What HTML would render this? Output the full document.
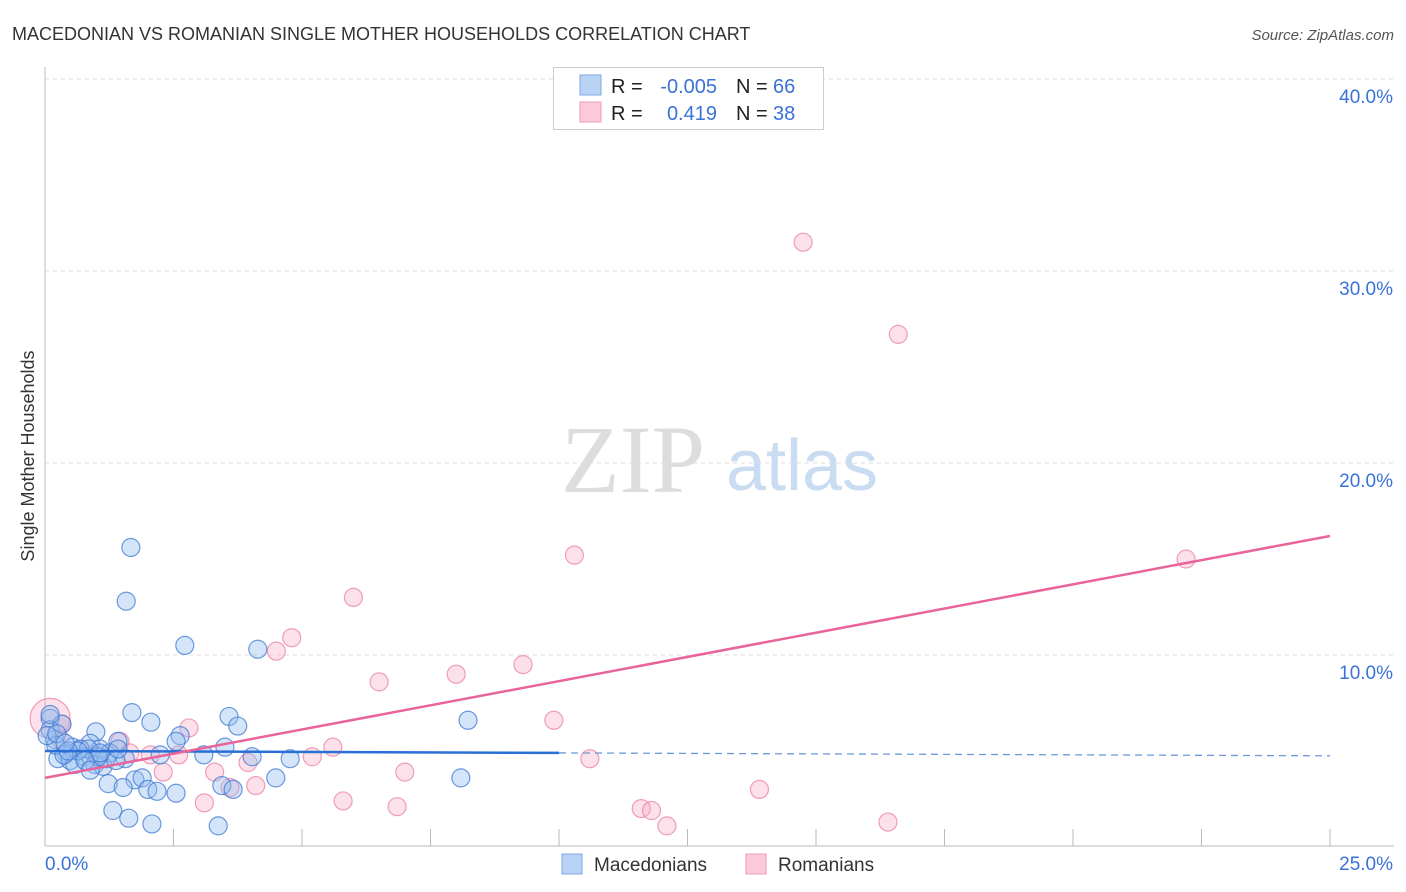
<!DOCTYPE html>
<html><head><meta charset="utf-8"><style>
body{margin:0;background:#fff;font-family:"Liberation Sans",sans-serif;}
svg{display:block}
</style></head><body>
<svg id="chart" width="1406" height="892">
<text x="12" y="40" font-size="18" fill="#333">MACEDONIAN VS ROMANIAN SINGLE MOTHER HOUSEHOLDS CORRELATION CHART</text>
<text x="1394" y="40" font-size="15" fill="#555" font-style="italic" text-anchor="end">Source: ZipAtlas.com</text>
<g id="grid"></g>
<text x="633" y="492" font-size="96" fill="#ddd" font-family="Liberation Serif" text-anchor="middle">ZIP</text>
<text x="802" y="490" font-size="72" fill="#c9dcf2" text-anchor="middle">atlas</text>
<text transform="translate(34,456) rotate(-90)" font-size="18" fill="#333" text-anchor="middle">Single Mother Households</text>
<g id="marks"></g>
<g>
<rect x="553.5" y="67.5" width="270" height="62" fill="#fff" stroke="#ccc"/>
<rect x="580" y="75" width="21" height="20" fill="#b9d3f5" stroke="#7aa8e6"/>
<rect x="580" y="102" width="21" height="20" fill="#fcc9d8" stroke="#f09ab6"/>
<text x="611" y="93" font-size="20" fill="#222">R = </text><text x="717" y="93" font-size="20" fill="#3a72d8" text-anchor="end">-0.005</text>
<text x="736" y="93" font-size="20" fill="#222">N = </text><text x="773" y="93" font-size="20" fill="#3a72d8">66</text>
<text x="611" y="120" font-size="20" fill="#222">R = </text><text x="717" y="120" font-size="20" fill="#3a72d8" text-anchor="end">0.419</text>
<text x="736" y="120" font-size="20" fill="#222">N = </text><text x="773" y="120" font-size="20" fill="#3a72d8">38</text>
</g>
<g>
<rect x="562" y="854" width="20" height="20" fill="#b9d3f5" stroke="#7aa8e6"/>
<text x="594" y="871" font-size="19" fill="#333">Macedonians</text>
<rect x="746" y="854" width="20" height="20" fill="#fcc9d8" stroke="#f09ab6"/>
<text x="778" y="871" font-size="19" fill="#333">Romanians</text>
</g>
</svg>
<script>
const xTicks=[0,2.5,5,7.5,10,12.5,15,17.5,20,22.5,25];
const yTicks=[10,20,30,40];
const yTickLabels=["10.0%","20.0%","30.0%","40.0%"];
const blueX=[1.67,1.58,2.72,4.14,1.69,2.06,3.58,3.75,0.99,2.63,2.55,0.10,0.10,0.33,0.19,0.88,0.53,0.68,1.07,1.42,1.26,1.56,2.24,3.09,3.50,4.03,4.77,0.41,0.25,0.49,0.76,0.97,1.13,0.58,1.75,1.23,1.52,1.89,2.00,2.18,2.55,3.44,3.66,4.49,8.09,8.23,1.32,1.63,2.08,3.37,0.10,0.21,0.84,0.64,0.37,1.19,1.38,1.03,0.78,0.45,0.04,0.23,0.39,1.42,0.88,1.07];
const blueY=[15.6,12.8,10.5,10.3,7.0,6.5,6.8,6.3,6.0,5.8,5.5,6.7,6.1,6.4,5.6,5.4,5.2,5.1,5.1,5.5,4.9,4.6,4.8,4.8,5.2,4.7,4.6,4.9,4.6,4.5,4.7,4.3,4.2,4.3,3.5,3.3,3.1,3.6,3.0,2.9,2.8,3.2,3.0,3.6,3.6,6.6,1.9,1.5,1.2,1.1,6.9,5.3,5.1,5.0,4.8,4.6,4.5,4.7,4.5,5.0,5.8,5.9,5.4,5.1,4.0,4.9];
const pinkX=[14.75,16.6,22.2,10.3,6.0,4.8,4.5,6.5,8.0,9.3,9.9,2.8,1.46,0.33,0.1,5.6,5.2,10.6,7.0,2.3,3.3,3.6,4.1,3.95,2.6,2.05,3.1,5.8,6.85,11.6,11.8,12.1,13.9,16.4,1.07,0.3,0.7,1.65];
const pinkY=[31.5,26.7,15.0,15.2,13.0,10.9,10.2,8.6,9.0,9.5,6.6,6.2,5.5,6.4,6.7,5.2,4.7,4.6,3.9,3.9,3.9,3.1,3.2,4.4,4.8,4.8,2.3,2.4,2.1,2.0,1.9,1.1,3.0,1.3,4.8,5.6,5.1,4.9];
const pinkR=[9,9,9,9,9,9,9,9,9,9,9,9,9,9,20,9,9,9,9,9,9,9,9,9,9,9,9,9,9,9,9,9,9,9,9,9,9,9];
const blueTrend=[5.0,4.75];
const pinkTrend=[3.6,16.2];
const ns="http://www.w3.org/2000/svg";
const X=v=>45+v/25*1285, Y=v=>847-v*19.2;
const svg=document.getElementById('chart'),grid=document.getElementById('grid'),marks=document.getElementById('marks');
function mk(tag,attrs,parent){const e=document.createElementNS(ns,tag);for(const k in attrs)e.setAttribute(k,attrs[k]);parent.appendChild(e);return e;}
yTicks.forEach((t,i)=>{
 const l=mk('line',{x1:45,x2:1394,y1:Y(t),y2:Y(t),stroke:'#ddd','stroke-dasharray':'4,4'},grid);
 
 
 const tx=mk('text',{x:1393,y:Y(t)+24,'font-size':19,fill:'#3a72d8','text-anchor':'end'},grid);tx.textContent=yTickLabels[i];
 
 
});
const ax=mk('line',{x1:45,x2:45,y1:67,y2:846,stroke:'#bbb'},grid);


const bx=mk('line',{x1:45,x2:1394,y1:846,y2:846,stroke:'#bbb'},grid);


xTicks.forEach(t=>{const l=mk('line',{x1:X(t),x2:X(t),y1:829,y2:846,stroke:'#bbb'},grid);
 
 });
const xl=mk('text',{x:45,y:870,'font-size':19,fill:'#3a72d8'},grid);xl.textContent='0.0%';


const xr=mk('text',{x:1393,y:870,'font-size':19,fill:'#3a72d8','text-anchor':'end'},grid);xr.textContent='25.0%';


pinkX.forEach((x,i)=>{const c=mk('circle',{cx:X(x),cy:Y(pinkY[i]),r:pinkR[i],fill:'rgba(248,170,195,0.35)',stroke:'rgba(232,120,160,0.7)','stroke-width':1.2},marks);
 
 });
blueX.forEach((x,i)=>{const c=mk('circle',{cx:X(x),cy:Y(blueY[i]),r:9,fill:'rgba(150,190,240,0.4)',stroke:'rgba(60,120,210,0.75)','stroke-width':1.2},marks);
 
 });
const bm=blueTrend[0]+(blueTrend[1]-blueTrend[0])*(10/25);
const b1=mk('line',{x1:X(0),y1:Y(blueTrend[0]),x2:X(10),y2:Y(bm),stroke:'#2a6fd6','stroke-width':2.5},marks);


const b2=mk('line',{x1:X(10),y1:Y(bm),x2:X(25),y2:Y(blueTrend[1]),stroke:'#6a9ad8','stroke-width':1.3,'stroke-dasharray':'7,5'},marks);


const p=mk('line',{x1:X(0),y1:Y(pinkTrend[0]),x2:X(25),y2:Y(pinkTrend[1]),stroke:'#e8649a','stroke-width':2.5},marks);


</script>
</body></html>
